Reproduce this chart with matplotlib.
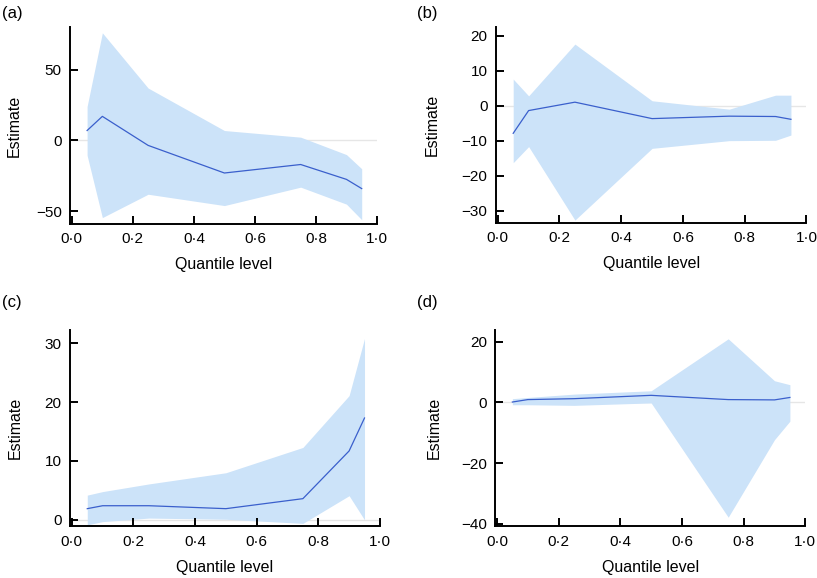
import matplotlib.pyplot as plt
import matplotlib.ticker as mticker

plt.rcParams['font.family'] = ['Liberation Sans', 'DejaVu Sans']

q = [0.05, 0.1, 0.25, 0.5, 0.75, 0.9, 0.95]

# panel (a)
est_a = [7, 17, -3.5, -23, -17, -27.5, -34]
up_a = [24, 76, 37, 7, 2.3, -10, -20]
lo_a = [-10.5, -54.5, -38, -46, -33, -45, -56]

# panel (b)
est_b = [-7.9, -1.4, 1.0, -3.7, -3.0, -3.1, -3.9]
up_b = [7.6, 2.8, 17.6, 1.4, -1.0, 3.0, 3.0]
lo_b = [-16.3, -11.7, -32.7, -12.2, -10.0, -9.9, -8.4]

# panel (c)
est_c = [1.9, 2.4, 2.4, 1.9, 3.6, 11.7, 17.3]
up_c = [4.2, 4.8, 6.1, 8.0, 12.3, 21.1, 30.8]
lo_c = [-0.85, -0.3, 0.3, 0.1, -0.6, 4.1, 0.0]

# panel (d)
est_d = [0.1, 0.9, 1.2, 2.3, 0.9, 0.8, 1.6]
up_d = [1.2, 1.6, 2.7, 3.8, 20.9, 7.1, 5.8]
lo_d = [-0.8, -0.8, -1.0, -0.2, -37.8, -12.3, -6.2]

panels = [
    ("(a)", est_a, up_a, lo_a, (-59, 80), [-50, 0, 50]),
    ("(b)", est_b, up_b, lo_b, (-33.4, 22.6), [-30, -20, -10, 0, 10, 20]),
    ("(c)", est_c, up_c, lo_c, (-1.1, 32.3), [0, 10, 20, 30]),
    ("(d)", est_d, up_d, lo_d, (-40.8, 23.9), [-40, -20, 0, 20]),
]
boxes = [
    [0.0857, 0.6125, 0.3757, 0.3405],
    [0.607, 0.615, 0.38, 0.339],
    [0.0857, 0.0894, 0.3793, 0.3402],
    [0.606, 0.0894, 0.3797, 0.3402],
]
ylab_x = [-0.156, -0.18, -0.154, -0.172]
label_pos = [(0.002, 0.99), (0.511, 0.99), (0.002, 0.49), (0.511, 0.49)]

fig = plt.figure(figsize=(8.17, 5.78), dpi=100)
for (name, est, up, lo, ylim, yt), box, lx, lp in zip(panels, boxes, ylab_x, label_pos):
    ax = fig.add_axes(box)
    ax.axhline(0, color='#e6e6e6', lw=1, zorder=0)
    ax.fill_between(q, lo, up, color='#cce3f9', lw=0, zorder=1)
    ax.plot(q, est, color='#3a5fcc', lw=0.9, zorder=2)
    ax.set_xlim(-0.006, 1.0)
    ax.set_ylim(*ylim)
    ax.set_yticks(yt)
    ax.set_xticks([0, 0.2, 0.4, 0.6, 0.8, 1.0])
    ax.xaxis.set_major_formatter(mticker.FuncFormatter(lambda v, p: ('%.1f' % v).replace('.', '\u00b7')))
    ax.yaxis.set_major_formatter(mticker.FuncFormatter(lambda v, p: ('%d' % v).replace('-', '\u2212')))
    for s in ['top', 'right']:
        ax.spines[s].set_visible(False)
    for s in ['left', 'bottom']:
        ax.spines[s].set_linewidth(1.4)
    ax.tick_params(direction='in', length=6, width=1.4, labelsize=11, pad=6)
    ax.set_xlabel('Quantile level', fontsize=11.5, labelpad=8)
    ax.set_ylabel('Estimate', fontsize=11.5)
    ax.yaxis.set_label_coords(lx, 0.5)
    fig.text(lp[0], lp[1], name, fontsize=12, va='top', ha='left')

fig.savefig('out.png', dpi=100)
